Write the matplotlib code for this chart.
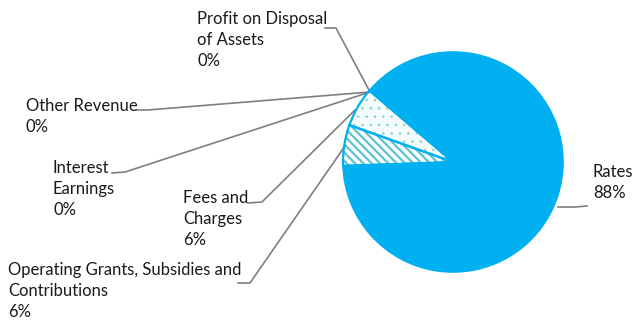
import matplotlib
matplotlib.use('Agg')
import matplotlib.pyplot as plt
from matplotlib.patches import Wedge

# --- datos ---
categorias = ['Operating Grants, Subsidies and\nContributions', 'Fees and\nCharges',
              'Interest\nEarnings', 'Other Revenue', 'Profit on Disposal\nof Assets', 'Rates']
valores = [6.0, 5.8, 0.0, 0.0, 0.0, 88.1]
porcentajes = ['6%', '6%', '0%', '0%', '0%', '88%']

W, H = 632, 323
AZUL = '#00B0F0'
GRIS = '#7F7F7F'
TEXTO = '#1a1a1a'

plt.rcParams['hatch.linewidth'] = 1.6

fig = plt.figure(figsize=(W / 100, H / 100), dpi=100)
ax = fig.add_axes([0, 0, 1, 1])


def Y(y):
    # coordenadas de pixel con origen arriba
    return H - y


cx, cy, r = 453, Y(162), 110
wedges, _ = ax.pie(valores, center=(cx, cy), radius=r, startangle=182,
                   counterclock=False, colors=[AZUL] * len(valores),
                   wedgeprops=dict(edgecolor=AZUL, linewidth=1.2), frame=True)

# rellenos con trama (grants = rayas, fees = puntos)
tramas = {0: ('\\\\\\\\', '#5BC3D6', 'white', 1.6), 1: ('..', '#86D3C4', '#F5FCFE', 0.6)}
for i, (hatch, hc, fc, hlw) in tramas.items():
    w = wedges[i]
    w.set_facecolor(fc)
    w.set_edgecolor(hc)
    w.set_hatch(hatch)
    try:
        w.set_hatch_linewidth(hlw)
    except AttributeError:
        pass
    w.set_linewidth(0)
    ax.add_patch(Wedge(w.center, w.r, w.theta1, w.theta2, fill=False,
                       edgecolor=AZUL, linewidth=1.6, zorder=3))

ax.set_xlim(0, W)
ax.set_ylim(0, H)
ax.set_aspect('auto')
ax.axis('off')

# etiquetas: (x, primera linea base, y linea guia)
pos_etiquetas = [
    (8, 275, [(238, 283), (250, 283), (345, 146)]),
    (183, 203, [(248, 203), (262, 202), (355, 110)]),
    (53, 173, [(112, 173), (125, 172), (370, 92)]),
    (26, 111, [(137, 110), (148, 110), (370, 92)]),
    (197, 24, [(325, 28), (336, 28), (370, 92)]),
    (593, 177, [(558, 207), (575, 207), (587, 206)]),
]
paso = 21
for cat, pct, (x, yb, guia) in zip(categorias, porcentajes, pos_etiquetas):
    lineas = cat.split('\n') + [pct]
    for k, ln in enumerate(lineas):
        ax.text(x, Y(yb + k * paso), ln, ha='left', va='baseline',
                fontsize=12, family='Lato', color=TEXTO)
    xs = [p[0] for p in guia]
    ys = [Y(p[1]) for p in guia]
    ax.plot(xs, ys, color=GRIS, linewidth=1.2, zorder=1)

fig.savefig('out.png', dpi=100)
